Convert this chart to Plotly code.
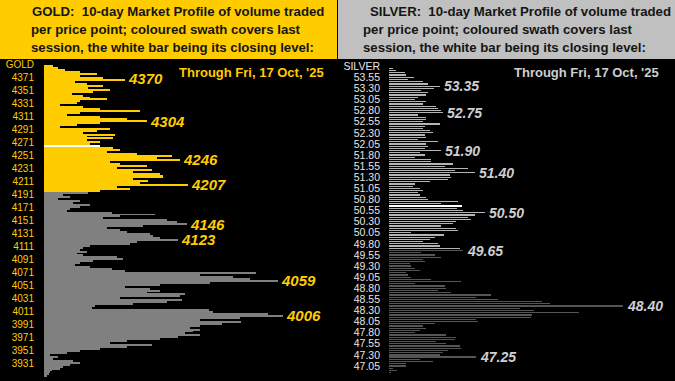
import plotly.graph_objects as go

W, H = 675, 381

# ---------------- GOLD data ----------------
gold_top, gold_step = 4389, 3
gold_swath_vol = [9, 14, 21, 36, 53, 36, 59, 81, 31, 43, 59, 44, 66, 49, 28, 39, 46, 63, 36, 33,
                  16, 39, 56, 96, 36, 23, 56, 83, 103, 56, 33, 16, 66, 53, 39, 71, 43, 69, 43, 56,
                  46, 56, 69, 76, 63, 93, 128, 113, 136, 66, 76, 103, 73, 108, 89, 116, 119, 119, 89, 104,
                  96, 144, 73, 86, 56]
gold_older_vol = [44, 19, 26, 14, 36, 29, 46, 36, 26, 23, 68, 111, 76, 59, 123, 133, 143, 99, 63, 76,
                  83, 106, 109, 116, 134, 93, 86, 46, 39, 36, 43, 33, 39, 73, 79, 49, 36, 31, 46, 68,
                  81, 212, 156, 189, 206, 234, 166, 116, 81, 106, 116, 103, 141, 136, 76, 138, 123, 89, 51, 48,
                  165, 169, 224, 239, 196, 156, 197, 178, 156, 146, 156, 149, 141, 156, 134, 116, 83, 66, 108, 83,
                  56, 36, 23, 6, 14, 9, 29, 36, 26, 19, 16, 8, 6, 5, 3]
gold_close = 4266
gold_ticks = [3931, 3951, 3971, 3991, 4011, 4031, 4051, 4071, 4091, 4111, 4131, 4151, 4171,
              4191, 4211, 4231, 4251, 4271, 4291, 4311, 4331, 4351, 4371]
gold_marks = [4370, 4304, 4246, 4207, 4146, 4123, 4059, 4006]

# ---------------- SILVER data ----------------
silver_top, silver_step = 53.75, 0.05
silver_swath_vol = [4, 7, 16, 17, 25, 19, 34, 39, 51, 45, 32, 39, 37, 29, 26, 37, 34, 47, 49, 52,
                    54, 29, 37, 37, 34, 51, 36, 34, 41, 44, 36, 37, 29, 49, 37, 39, 36, 52, 31, 36,
                    26, 42, 42, 64, 56, 79, 66, 86, 61, 62, 59, 41, 26, 24, 31, 34, 29, 31, 37, 39,
                    69, 52, 73, 68, 74, 96, 86, 79, 82, 67, 64, 52, 67, 69, 22, 55, 46, 41, 34, 49,
                    51, 71]
silver_older_vol = [74, 32, 46, 52, 34, 36, 21, 22, 26, 31, 17, 19, 22, 42, 72, 26, 56, 57, 49, 62,
                    102, 87, 109, 153, 161, 234, 131, 145, 190, 143, 142, 87, 89, 46, 34, 37, 31, 26, 57, 67,
                    66, 47, 57, 71, 72, 59, 54, 51, 87, 31, 44, 17, 17, 4, 8, 2]
silver_close = 50.65
silver_ticks = [47.05, 47.30, 47.55, 47.80, 48.05, 48.30, 48.55, 48.80, 49.05, 49.30, 49.55, 49.80,
                50.05, 50.30, 50.55, 50.80, 51.05, 51.30, 51.55, 51.80, 52.05, 52.30, 52.55, 52.80,
                53.05, 53.30, 53.55]
silver_marks = [53.35, 52.75, 51.90, 51.40, 50.50, 49.65, 48.40, 47.25]

title_lines = ["{}:&nbsp; 10-day Market Profile of volume traded",
               "per price point; coloured swath covers last",
               "session, the white bar being its closing level:"]
through_text = "Through Fri, 17 Oct, '25"

# ---------------- styling ----------------
GOLD_C = "#FFCC00"
GOLD_OLD = "#808080"
SIL_C = "#B4B4B4"
SIL_OLD = "#555555"
SIL_TXT = "#CFCFCF"
FONT = "Liberation Sans, Arial, sans-serif"


def px(x):
    return x / W


def py(y):
    return 1 - y / H


gold_vol = gold_swath_vol + gold_older_vol
gold_levels = [gold_top - gold_step * i for i in range(len(gold_vol))]
gold_cols = ([GOLD_C] * len(gold_swath_vol)) + ([GOLD_OLD] * len(gold_older_vol))
gold_cols = ["#FFFFFF" if lv == gold_close else c for lv, c in zip(gold_levels, gold_cols)]

silver_vol = silver_swath_vol + silver_older_vol
silver_levels = [round(silver_top - silver_step * i, 2) for i in range(len(silver_vol))]
silver_cols = ([SIL_C] * len(silver_swath_vol)) + ([SIL_OLD] * len(silver_older_vol))
silver_cols = ["#FFFFFF" if abs(lv - silver_close) < 1e-6 else c for lv, c in zip(silver_levels, silver_cols)]

fig = go.Figure()
fig.add_trace(go.Bar(x=gold_vol, y=gold_levels, orientation="h", width=gold_step,
                     marker=dict(color=gold_cols, line=dict(width=0)), xaxis="x", yaxis="y",
                     hoverinfo="skip"))
fig.add_trace(go.Bar(x=silver_vol, y=silver_levels, orientation="h", width=silver_step * 0.55,
                     marker=dict(color=silver_cols, line=dict(width=0)), xaxis="x2", yaxis="y2",
                     hoverinfo="skip"))

plot_top = 59
dom_y = [0, py(plot_top)]

fig.update_layout(
    width=W, height=H, margin=dict(l=0, r=0, t=0, b=0),
    paper_bgcolor="black", plot_bgcolor="black", showlegend=False, bargap=0,
    font=dict(family=FONT),
    xaxis=dict(domain=[px(44), px(337)], range=[0, 293], visible=False, fixedrange=True),
    yaxis=dict(domain=dom_y, range=[3904.8, 4400.2], showgrid=False, zeroline=False,
               tickmode="array", tickvals=gold_ticks + [4391],
               ticktext=[str(t) for t in gold_ticks] + ["GOLD"], ticks="",
               ticklabelstandoff=9, tickfont=dict(color=GOLD_C, size=10, family=FONT),
               showline=False),
    xaxis2=dict(domain=[px(389), 1], range=[0, 286], visible=False, anchor="y2"),
    yaxis2=dict(domain=dom_y, range=[46.712, 53.962], showgrid=False, zeroline=False,
                anchor="x2", tickmode="array", tickvals=silver_ticks + [53.80],
                ticktext=["%.2f" % t for t in silver_ticks] + ["SILVER"], ticks="",
                ticklabelstandoff=8, tickfont=dict(color="#E6E6E6", size=10.5, family=FONT),
                showline=False),
)

shapes = [
    dict(type="rect", xref="paper", yref="paper", x0=0, x1=px(337), y0=py(plot_top), y1=1,
         fillcolor=GOLD_C, line=dict(width=0), layer="below"),
    dict(type="rect", xref="paper", yref="paper", x0=px(338), x1=1, y0=py(plot_top), y1=1,
         fillcolor="#C0C0C0", line=dict(width=0), layer="below"),
]
fig.update_layout(shapes=shapes)

ann = []
# header titles
line_y = [11.5, 30, 47.5]
for i, t in enumerate(title_lines):
    txt = t.format("GOLD") if i == 0 else t
    ann.append(dict(xref="paper", yref="paper", x=px(30 if i == 0 else 29), y=py(line_y[i]),
                    text="<b>" + txt + "</b>", showarrow=False, xanchor="left", yanchor="middle",
                    font=dict(size=13.2, color="#151515", family=FONT)))
    txt = t.format("SILVER") if i == 0 else t
    ann.append(dict(xref="paper", yref="paper", x=px(368 if i == 0 else 361), y=py(line_y[i]),
                    text="<b>" + txt + "</b>", showarrow=False, xanchor="left", yanchor="middle",
                    font=dict(size=13.2, color="#151515", family=FONT)))

ann.append(dict(xref="paper", yref="paper", x=px(177), y=py(73), text="<b>" + through_text + "</b>",
                showarrow=False, xanchor="left", yanchor="middle",
                font=dict(size=13, color=GOLD_C, family=FONT)))
ann.append(dict(xref="paper", yref="paper", x=px(512), y=py(73), text="<b>" + through_text + "</b>",
                showarrow=False, xanchor="left", yanchor="middle",
                font=dict(size=13, color=SIL_TXT, family=FONT)))

for m in gold_marks:
    v = max(vol for lv, vol in zip(gold_levels, gold_vol) if abs(lv - m) <= 3)
    ann.append(dict(xref="x", yref="y", x=v, y=m, text="<b><i>%d</i></b>" % m, showarrow=False,
                    xanchor="left", yanchor="middle", xshift=1,
                    font=dict(size=15, color=GOLD_C, family=FONT)))
for m in silver_marks:
    v = max(vol for lv, vol in zip(silver_levels, silver_vol) if abs(lv - m) <= 0.026)
    ann.append(dict(xref="x2", yref="y2", x=v, y=m, text="<b><i>%.2f</i></b>" % m, showarrow=False,
                    xanchor="left", yanchor="middle", xshift=2,
                    font=dict(size=14, color=SIL_TXT, family=FONT)))

fig.update_layout(annotations=ann)
fig.write_html("out.html", config={"displayModeBar": False, "staticPlot": True},
               post_script="document.body.style.margin='0px';document.body.style.overflow='hidden';")
